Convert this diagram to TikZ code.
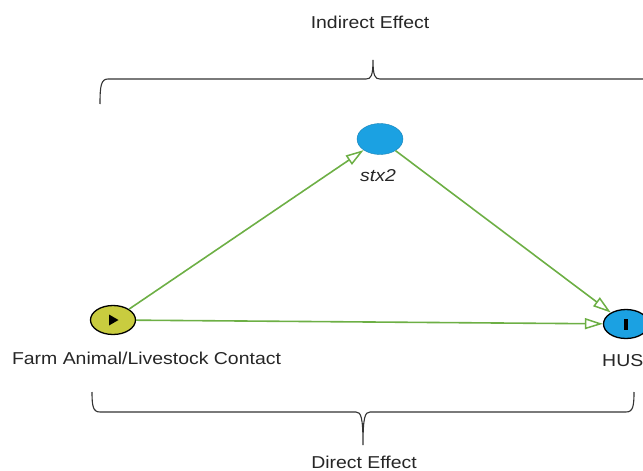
\documentclass[tikz,border=0pt]{standalone}
\usepackage{fontspec}
\setmainfont{Liberation Sans}
\usetikzlibrary{shapes.geometric,arrows.meta}
\definecolor{farmfill}{HTML}{C9CC3F}
\definecolor{nodeblue}{HTML}{1BA1E2}
\definecolor{arrowgreen}{HTML}{6DAF45}
\tikzset{
  lbl/.style={font=\fontsize{17.2}{19}\selectfont, inner sep=0pt, xscale=1.13, text=black!85},
  oval/.style={ellipse, inner sep=0pt},
  link/.style={draw=arrowgreen, line width=1.6pt, -{Triangle[open, length=18pt, width=11pt, line width=1.5pt]}},
  bracket/.style={draw=black!80, line width=1.1pt}
}
\begin{document}
\begin{tikzpicture}[x=1pt,y=-1pt]
\useasboundingbox (0,0) rectangle (643,471);
% nodes
\node[oval, draw=black, line width=1.3pt, fill=farmfill, minimum width=45pt, minimum height=29pt] (farm) at (113,320) {};
\node[oval, draw=black, line width=1.3pt, fill=nodeblue, minimum width=45pt, minimum height=29pt] (hus) at (626,324) {};
\node[oval, fill=nodeblue, draw=nodeblue!80!black, line width=0.4pt, minimum width=46pt, minimum height=31pt] (stx) at (380,139) {};
% symbols inside
\fill[black] (109,314.5) -- (118.5,320) -- (109,325.5) -- cycle;
\fill[black] (624.2,318.5) rectangle (627.8,329.5);
% labels
\node[lbl] (farmlbl) at (146.5,358) {Farm Animal/Livestock Contact};
\node[lbl, anchor=west] (huslbl) at (602,361) {HUS};
\node[lbl, font=\fontsize{17.2}{19}\selectfont\itshape] (stxlbl) at (378,176) {stx2};
\node[lbl] (ind) at (370,22) {Indirect Effect};
\node[lbl] (dir) at (364,462) {Direct Effect};
% connectors
\draw[link] (farm) -- (stx);
\draw[link] (farm) -- (hus);
\draw[link] (stx) -- (hus);
% braces
\coordinate (tl) at (100,104);
\coordinate (tt) at (373,60);
\draw[bracket] (tl) .. controls (100,86) and (101,79) .. (108,79) -- (366,79)
  .. controls (371,79) and (373,76) .. (tt)
  .. controls (373,76) and (375,79) .. (380,79) -- (650,79);
\coordinate (bl) at (92,392);
\coordinate (bt) at (363,445);
\coordinate (br) at (634,392);
\draw[bracket] (bl) .. controls (92,406) and (93,412) .. (100,412) -- (356,412)
  .. controls (361,412) and (363,417) .. (bt)
  .. controls (363,417) and (365,412) .. (370,412) -- (626,412)
  .. controls (633,412) and (634,406) .. (br);
\end{tikzpicture}
\end{document}
